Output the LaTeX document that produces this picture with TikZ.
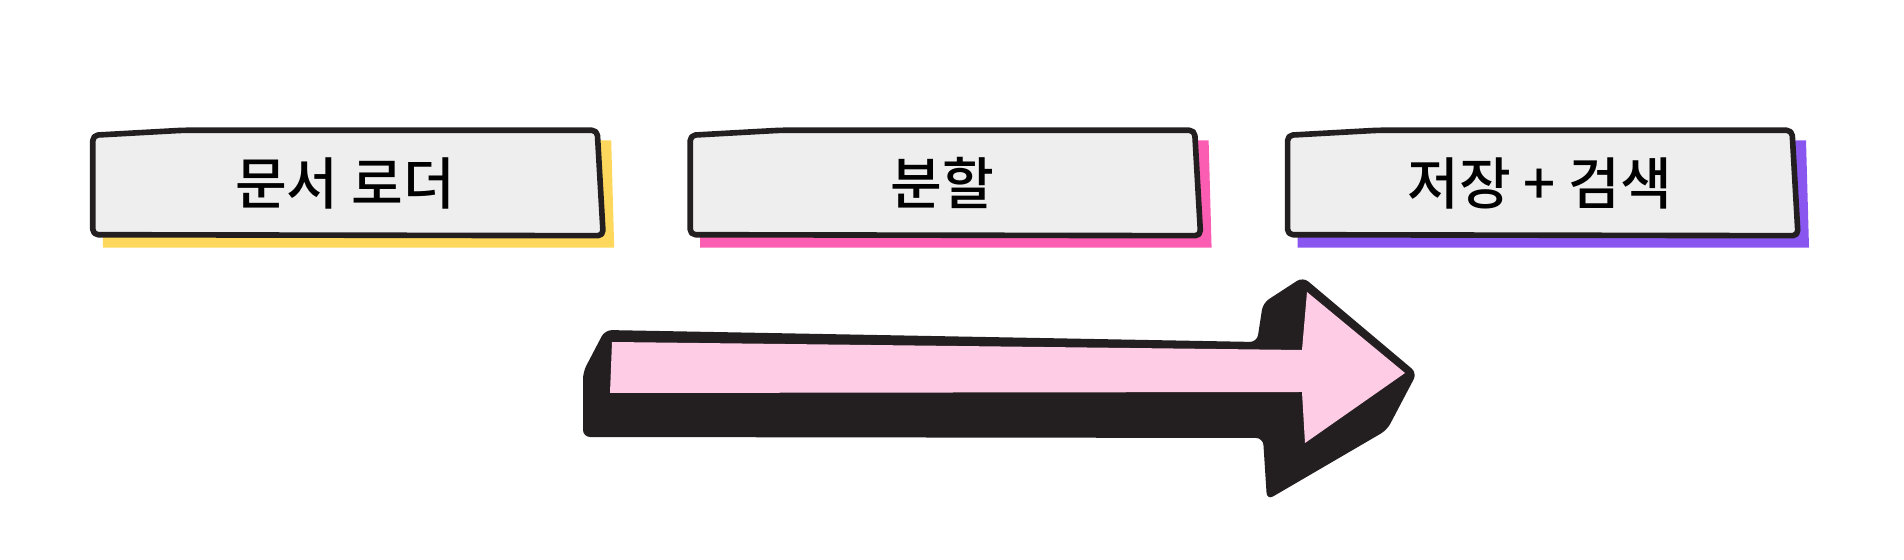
\documentclass[tikz,border=0pt]{standalone}
\usepackage{fontspec}
\newfontfamily\krfont{Noto Sans CJK KR Medium}
\usepackage{xcolor}
\usepackage{tikz}
\usetikzlibrary{positioning, backgrounds}

\definecolor{boxgray}{HTML}{EEEEEE}
\definecolor{loaderyellow}{HTML}{FDD85C}
\definecolor{splitpink}{HTML}{FA5DB2}
\definecolor{storepurple}{HTML}{8A56F0}
\definecolor{arrowpink}{HTML}{FFCCE6}
\definecolor{arrowblack}{HTML}{231F20}

\tikzset{
    stage/.style={minimum width=5.03cm, minimum height=1.04cm, inner sep=0pt,
                  font=\krfont\fontsize{16pt}{19pt}\selectfont},
    boxline/.style={draw=arrowblack, fill=boxgray, line width=1.6pt,
                    line join=round, rounded corners=1.5pt}
}

\begin{document}
\begin{tikzpicture}[node distance=0.93cm]
    \useasboundingbox (0,0) rectangle (19.04,5.60);

    \node[stage] (loader) at (3.45,3.77) {문서 로더};
    \node[stage, right=of loader] (split) {분할};
    \node[stage, right=of split] (store) {저장 + 검색};

    % shadows and hand-drawn frames
    \begin{scope}[on background layer]
    \foreach \n/\c in {loader/loaderyellow, split/splitpink, store/storepurple}
    {
        \fill[\c] ([shift={(0.10,-0.12)}]\n.south west) -- ([shift={(0.17,-0.12)}]\n.south east)
            -- ([shift={(0.14,-0.10)}]\n.north east) -- ([shift={(0.10,-0.10)}]\n.north west) -- cycle;
        \draw[boxline] ([shift={(0,-0.05)}]\n.north west) -- ([shift={(0.9,0)}]\n.north west)
            -- (\n.north east) -- ([shift={(0.06,0)}]\n.south east)
            -- ([shift={(0,0.01)}]\n.south west) -- cycle;
    }
    \end{scope}

    % big arrow
    \fill[arrowblack, rounded corners=2pt] (6.05,2.30) -- (12.57,2.18) -- (12.63,2.57) -- (13.03,2.83)
        -- (14.17,1.87) -- (13.87,1.30) -- (12.67,0.60) -- (12.63,1.22) -- (5.83,1.23)
        -- (5.83,1.88) -- cycle;
    \fill[arrowpink] (6.12,2.18) -- (13.02,2.10) -- (13.07,2.68) -- (14.05,1.87)
        -- (13.05,1.17) -- (13.02,1.68) -- (6.10,1.67) -- cycle;
\end{tikzpicture}
\end{document}
